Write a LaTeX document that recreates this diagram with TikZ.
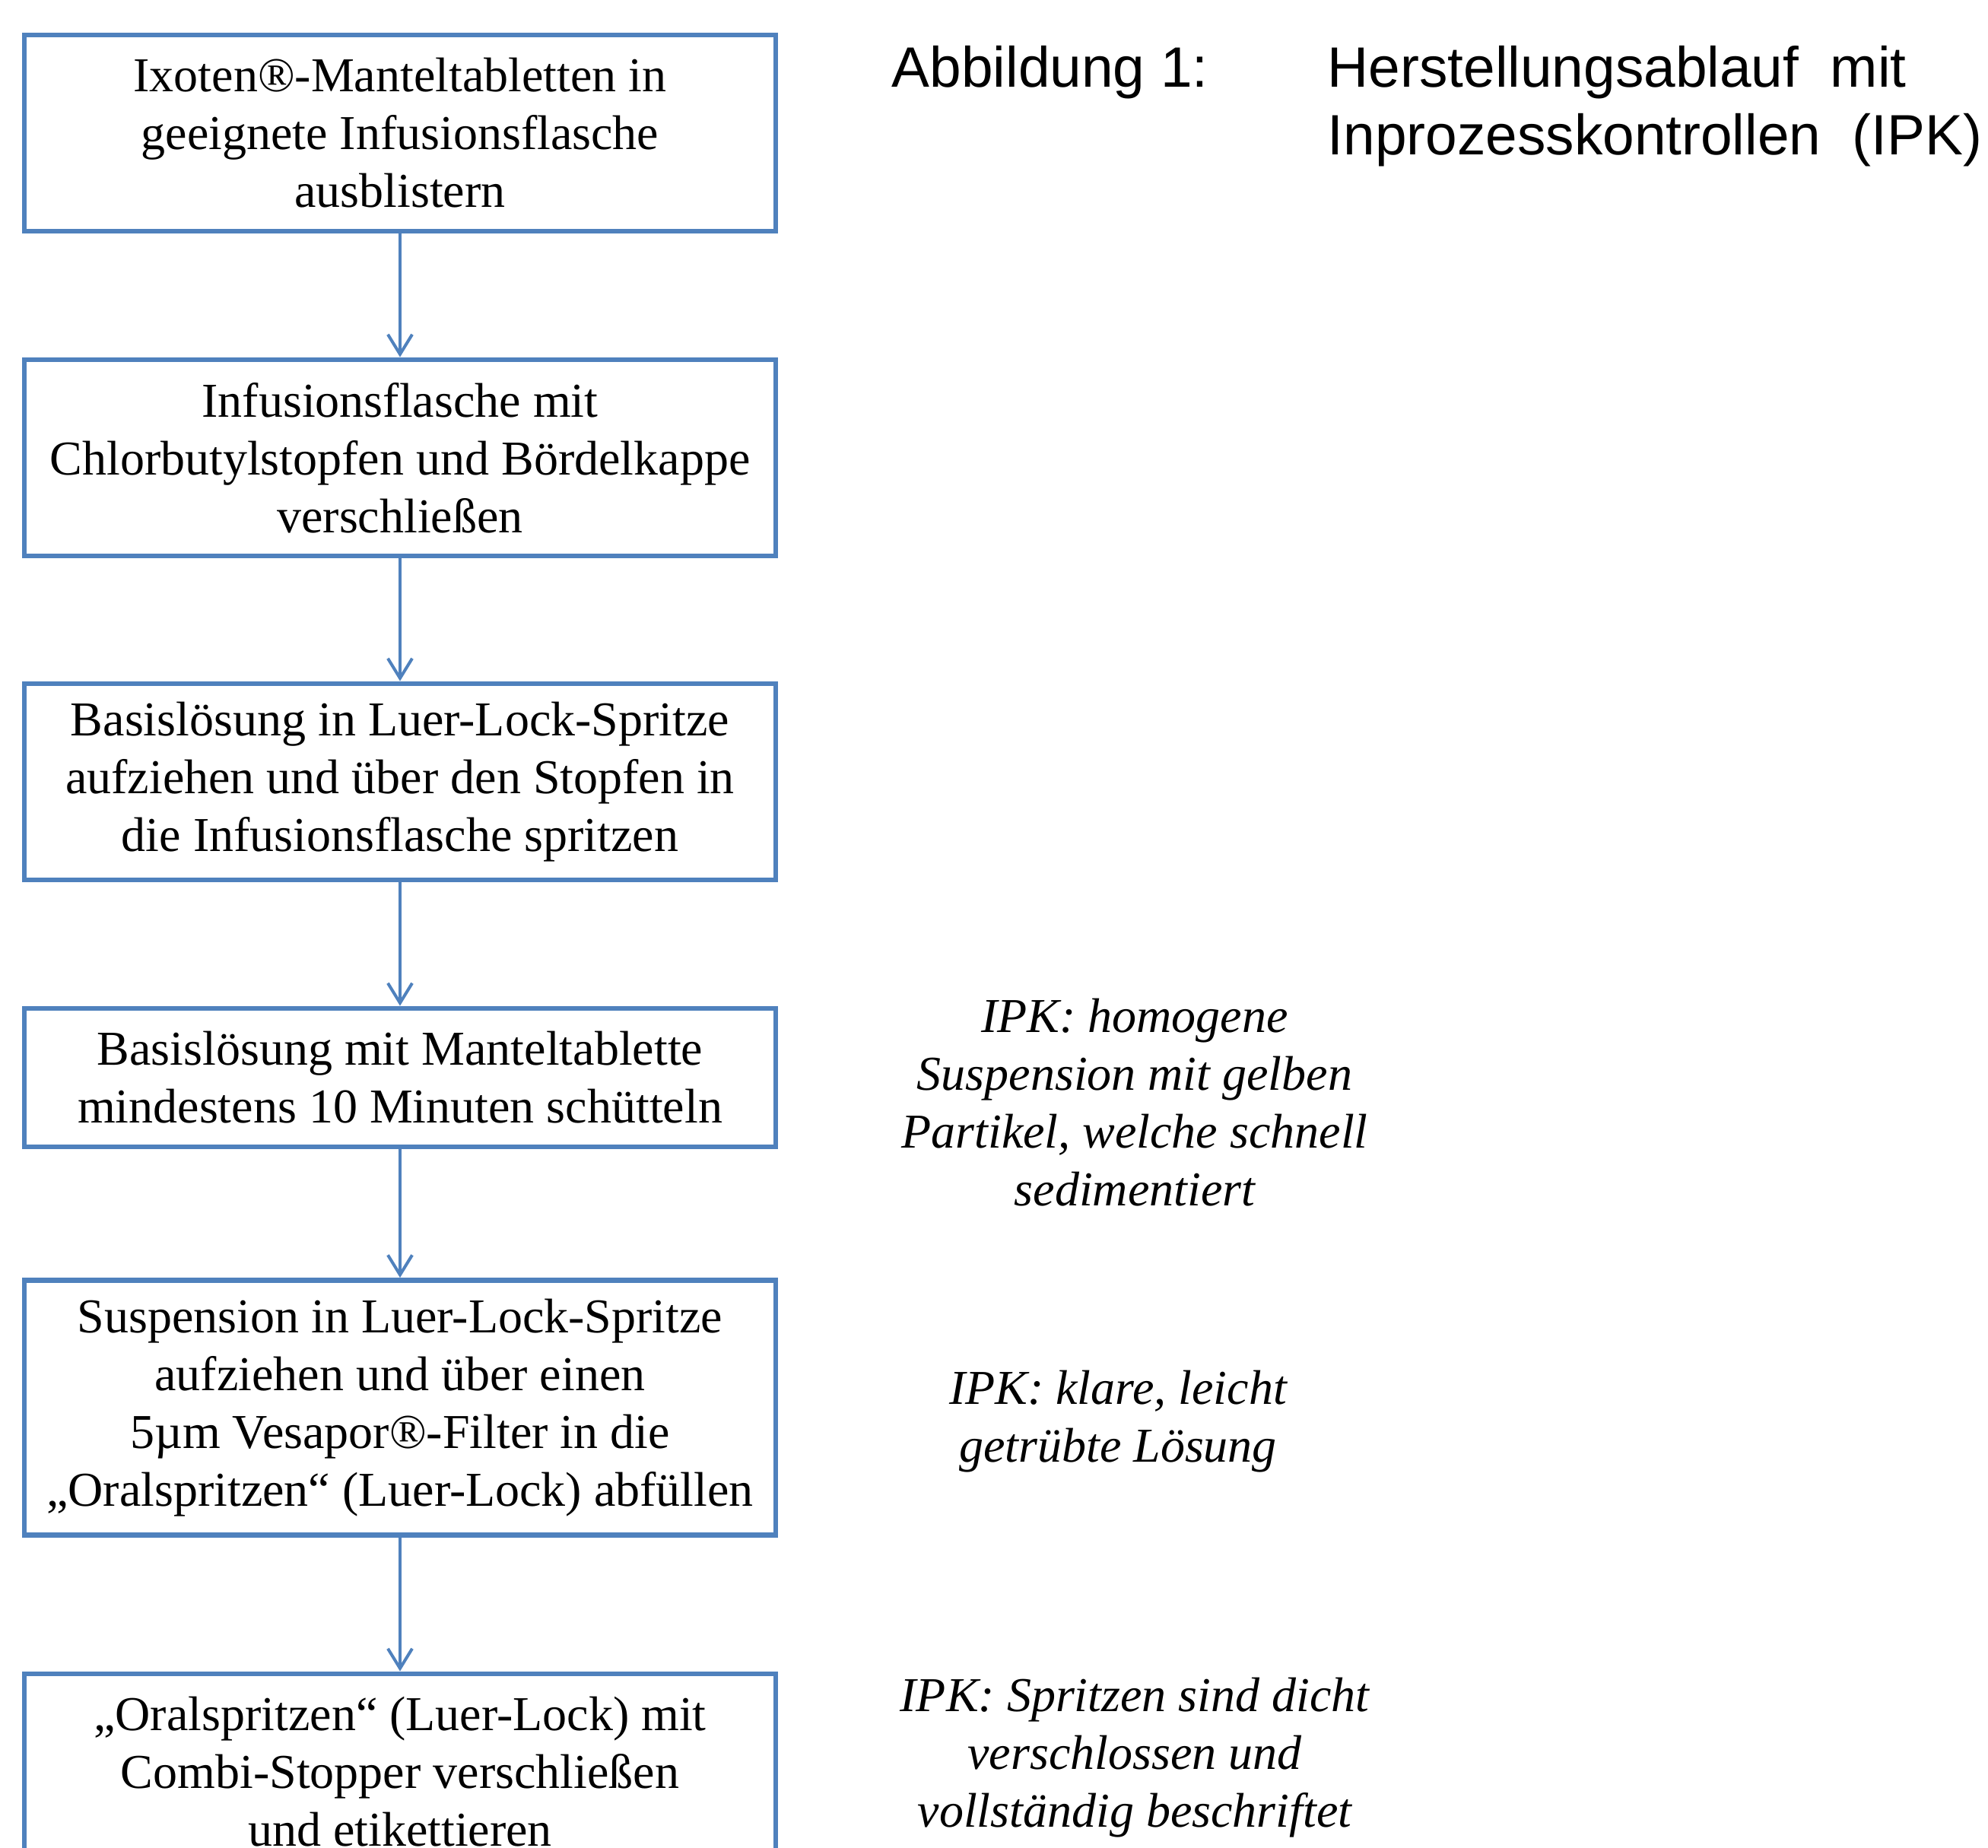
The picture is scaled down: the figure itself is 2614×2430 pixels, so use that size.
\documentclass[tikz,border=0pt]{standalone}
\usepackage{fontspec}
\setmainfont{Liberation Serif}
\newfontfamily\titlefont{Liberation Sans}
\usetikzlibrary{arrows.meta}
\definecolor{boxblue}{HTML}{4F81BD}
\begin{document}
\begin{tikzpicture}[x=0.25pt,y=-0.25pt,
 stepbox/.style={draw=boxblue,line width=1.7pt,minimum width=247pt,inner sep=0pt,align=center,font=\fontsize{16}{19}\selectfont},
 flow/.style={draw=boxblue,line width=1pt,-{Straight Barb[length=6.5pt,width=8pt]}},
 ipk/.style={align=center,inner sep=0pt,font=\fontsize{16}{19}\selectfont\itshape},
 title/.style={anchor=base west,inner sep=0pt,font=\titlefont\fontsize{18.7}{22}\selectfont}]
\useasboundingbox (0,0) rectangle (2614,2430);
\node[stepbox,minimum height=64.5pt] (b1) at (526,175) {Ixoten®-Manteltabletten in\\geeignete Infusionsflasche\\ausblistern};
\node[stepbox,minimum height=64.5pt] (b2) at (526,602) {Infusionsflasche mit\\Chlorbutylstopfen und Bördelkappe\\verschließen};
\node[stepbox,minimum height=64.5pt] (b3) at (526,1028) {Basislösung in Luer-Lock-Spritze\\aufziehen und über den Stopfen in\\die Infusionsflasche spritzen};
\node[stepbox,minimum height=45.5pt] (b4) at (526,1417) {Basislösung mit Manteltablette\\mindestens 10 Minuten schütteln};
\node[stepbox,minimum height=83.75pt] (b5) at (526,1851) {Suspension in Luer-Lock-Spritze\\aufziehen und über einen\\5µm Vesapor®-Filter in die\\„Oralspritzen“ (Luer-Lock) abfüllen};
\node[stepbox,minimum height=64.5pt] (b6) at (526,2330) {„Oralspritzen“ (Luer-Lock) mit\\Combi-Stopper verschließen\\und etikettieren};
\draw[flow] (b1.south) -- (b2.north);
\draw[flow] (b2.south) -- (b3.north);
\draw[flow] (b3.south) -- (b4.north);
\draw[flow] (b4.south) -- (b5.north);
\draw[flow] (b5.south) -- (b6.north);
\node[ipk] (i1) at (1492,1450) {IPK: homogene\\Suspension mit gelben\\Partikel, welche schnell\\sedimentiert};
\node[ipk] (i2) at (1470,1869) {IPK: klare, leicht\\getrübte Lösung};
\node[ipk] (i3) at (1492,2311) {IPK: Spritzen sind dicht\\verschlossen und\\vollständig beschriftet};
\node[title] (t1) at (1172,114) {Abbildung 1:};
\node[title] (t2) at (1745,114) {Herstellungsablauf\ \ mit};
\node[title] (t3) at (1745,203) {Inprozesskontrollen\ \ (IPK)};
\end{tikzpicture}
\end{document}
